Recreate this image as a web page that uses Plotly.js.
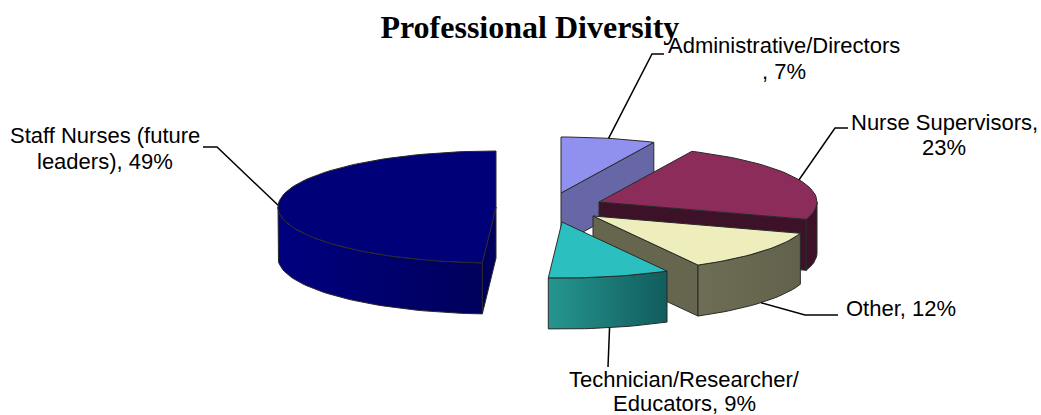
<!DOCTYPE html>
<html>
<head>
<meta charset="utf-8">
<script src="https://cdn.plot.ly/plotly-3.0.1.min.js"></script>
<style>html,body{margin:0;padding:0;background:#fff}#chart{width:1041px;height:415px}</style>
</head>
<body>
<div id="chart"></div>
<script>
// Data, clockwise from 12 o'clock
const categories = ["Administrative/Directors", "Nurse Supervisors", "Other", "Technician/Researcher/ Educators", "Staff Nurses (future leaders)"];
const shares = [7, 23, 12, 9, 49];
const labelLines = [
  ["Administrative/Directors", ", 7%"],
  ["Nurse Supervisors,", "23%"],
  ["Other, 12%"],
  ["Technician/Researcher/", "Educators, 9%"],
  ["Staff Nurses (future", "leaders), 49%"]
];
// Styling
const topColors = ["#9090EE", "#8B2C5A", "#EEEEBC", "#2CBFBF", "#000078"];
const cutColors = ["#6767A8", "#3D1228", "#66664F", "#1F8B8B", "#00005C"];
const wallLight = ["#6767A8", "#3D1228", "#6E6E56", "#26968F", "#000080"];
const wallDark  = ["#6767A8", "#3D1228", "#62624C", "#115C5C", "#00005C"];
// Projection of the exploded pie (pixel scale of the axes)
const centerX = [561, 599, 593, 562, 496];
const centerY = [193, 202, 216, 222, 207];
const radiusX = 218, radiusY = 56, depth = 51;
// Label line positions and leader elbows
const labelX = [784, 944, 901, 684, 105];
const labelY = [[45.5, 71], [122.5, 147.5], [308], [379.5, 403.5], [135.5, 161.5]];
const elbowX = [[652, 664], [835, 848], [805, 838], [608, 608], [217, 203]];
const elbowY = [[54, 54], [128, 128], [315, 315], [367, 367], [147, 147]];
const drawOrder = [0, 4, 1, 2, 3];
const edge = "#2a2a2a";

const rad = d => d * Math.PI / 180;
const px = (i, a) => centerX[i] + radiusX * Math.sin(rad(a));
const py = (i, a) => centerY[i] - radiusY * Math.cos(rad(a));
function arc(from, to) {
  const out = [];
  const n = Math.max(2, Math.ceil(Math.abs(to - from) / 2));
  for (let k = 0; k <= n; k++) out.push(from + (to - from) * k / n);
  return out;
}
const total = shares.reduce((a, b) => a + b, 0);
const starts = [], ends = [];
shares.reduce((acc, v, i) => { starts[i] = acc; ends[i] = acc + v / total * 360; return ends[i]; }, 0);

const traces = [];
function face(x, y, colorA, colorB, lineColor) {
  const t = {x, y, mode: "lines", fill: "toself", hoverinfo: "skip", showlegend: false,
    line: {color: lineColor, width: 1}, fillcolor: colorA};
  if (colorB && colorB !== colorA) {
    t.fillgradient = {type: "horizontal", colorscale: [[0, colorA], [1, colorB]]};
  }
  traces.push(t);
}
drawOrder.forEach(i => {
  const s = starts[i], e = ends[i];
  const cx = centerX[i], cy = centerY[i];
  // radial cut faces that turn towards the viewer
  const cutFace = a => face(
    [cx, px(i, a), px(i, a), cx, cx],
    [cy, py(i, a), py(i, a) + depth, cy + depth, cy],
    cutColors[i], null, edge);
  if (e < 180) cutFace(e);
  if (s > 180 && s < 360) cutFace(s);
  // outer wall along the front half of the rim
  const w0 = Math.max(s, 90), w1 = Math.min(e, 270);
  if (w1 > w0) {
    const a = arc(w0, w1);
    const b = a.slice().reverse();
    const xs = a.map(v => px(i, v)).concat(b.map(v => px(i, v)));
    const ys = a.map(v => py(i, v)).concat(b.map(v => py(i, v) + depth));
    xs.push(xs[0]); ys.push(ys[0]);
    face(xs, ys, wallLight[i], wallDark[i], edge);
  }
  // top of the slice
  const a = arc(s, e);
  face([cx].concat(a.map(v => px(i, v)), [cx]), [cy].concat(a.map(v => py(i, v)), [cy]), topColors[i], null, edge);
});

// Leader lines: start at the middle of the visible rim of each slice
categories.forEach((c, i) => {
  const mid = (starts[i] + ends[i]) / 2;
  const drop = Math.cos(rad(mid)) < 0 && i !== 1 && i !== 4 ? depth : 0;
  traces.push({
    x: [px(i, mid)].concat(elbowX[i]),
    y: [py(i, mid) + drop].concat(elbowY[i]),
    mode: "lines", hoverinfo: "skip", showlegend: false, name: c,
    line: {color: "#000", width: 1.5}
  });
});

const annotations = [];
labelLines.forEach((lines, i) => lines.forEach((t, k) => annotations.push({
  text: t, x: labelX[i], y: labelY[i][k], xref: "x", yref: "y", xanchor: "center", yanchor: "middle",
  align: "center", showarrow: false, font: {family: "Liberation Sans, Arial, sans-serif", size: 22, color: "#000"}
})));

const layout = {
  width: 1041, height: 415, margin: {l: 0, r: 0, t: 0, b: 0},
  paper_bgcolor: "#fff", plot_bgcolor: "#fff", showlegend: false,
  title: {text: "<b>Professional Diversity</b>", x: 0.509, xanchor: "center", y: 0.935, yanchor: "middle",
    font: {family: "Liberation Serif, Times New Roman, serif", size: 32, color: "#000"}},
  xaxis: {range: [0, 1041], visible: false, fixedrange: true},
  yaxis: {range: [415, 0], visible: false, fixedrange: true},
  annotations
};
Plotly.newPlot("chart", traces, layout, {displayModeBar: false, staticPlot: true});
</script>
</body>
</html>
